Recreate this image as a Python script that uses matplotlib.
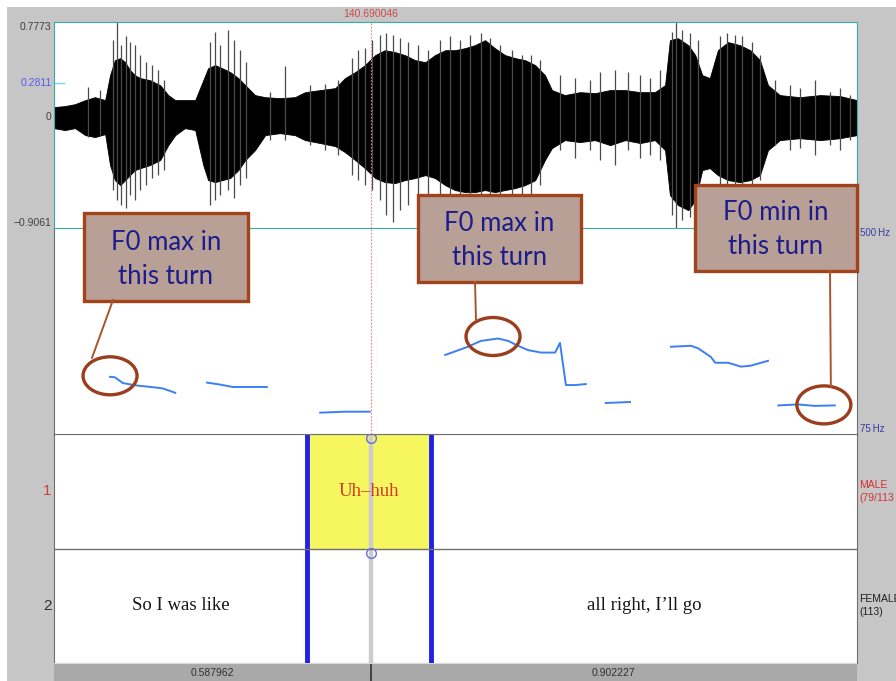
import numpy as np
import matplotlib
matplotlib.use("Agg")
import matplotlib.pyplot as plt
import matplotlib.transforms as mtransforms
from matplotlib.patches import Rectangle, Ellipse

# time window (s) shown in the editor, relative to its left edge
window_start = 140.102084
t_cursor = 0.587962
t_end = 1.490189

# waveform envelope (dense part)
wave_t = [0.000, 0.020, 0.039, 0.058, 0.076, 0.095, 0.104, 0.113, 0.123, 0.132,
          0.141, 0.150, 0.160, 0.178, 0.197, 0.212, 0.225, 0.243, 0.262, 0.277,
          0.286, 0.299, 0.312, 0.327, 0.342, 0.355, 0.373, 0.392, 0.419, 0.447,
          0.466, 0.494, 0.522, 0.540, 0.559, 0.577, 0.596, 0.614, 0.633, 0.651,
          0.670, 0.689, 0.707, 0.726, 0.744, 0.763, 0.781, 0.800, 0.818, 0.837,
          0.856, 0.874, 0.893, 0.911, 0.924, 0.948, 0.976, 1.004, 1.032, 1.060,
          1.088, 1.115, 1.134, 1.143, 1.158, 1.177, 1.190, 1.203, 1.217, 1.232,
          1.251, 1.273, 1.292, 1.310, 1.325, 1.347, 1.384, 1.422, 1.459, 1.490]
wave_hi = [0.082, 0.090, 0.106, 0.139, 0.163, 0.139, 0.343, 0.466, 0.482, 0.449,
           0.384, 0.343, 0.319, 0.302, 0.261, 0.180, 0.139, 0.139, 0.139, 0.302,
           0.400, 0.425, 0.400, 0.368, 0.319, 0.261, 0.180, 0.163, 0.155, 0.163,
           0.204, 0.221, 0.237, 0.319, 0.368, 0.425, 0.507, 0.547, 0.531, 0.507,
           0.466, 0.449, 0.507, 0.547, 0.547, 0.564, 0.588, 0.629, 0.564, 0.507,
           0.482, 0.466, 0.425, 0.343, 0.221, 0.180, 0.204, 0.196, 0.221, 0.221,
           0.204, 0.204, 0.261, 0.629, 0.645, 0.588, 0.507, 0.343, 0.319, 0.547,
           0.613, 0.588, 0.547, 0.466, 0.261, 0.180, 0.163, 0.180, 0.172, 0.139]
wave_lo = [-0.090, -0.106, -0.090, -0.147, -0.163, -0.139, -0.392, -0.515, -0.556, -0.515,
           -0.474, -0.433, -0.417, -0.392, -0.351, -0.229, -0.147, -0.090, -0.106, -0.392,
           -0.515, -0.531, -0.515, -0.498, -0.433, -0.351, -0.270, -0.147, -0.131, -0.147,
           -0.188, -0.212, -0.237, -0.286, -0.351, -0.417, -0.498, -0.531, -0.539, -0.515,
           -0.498, -0.474, -0.498, -0.556, -0.596, -0.613, -0.613, -0.596, -0.613, -0.596,
           -0.580, -0.556, -0.515, -0.351, -0.253, -0.188, -0.204, -0.188, -0.229, -0.188,
           -0.212, -0.188, -0.270, -0.637, -0.719, -0.760, -0.678, -0.433, -0.417, -0.474,
           -0.515, -0.531, -0.515, -0.474, -0.270, -0.188, -0.172, -0.188, -0.172, -0.147]

# single peaks sticking out of the envelope
spike_t = [0.1095, 0.1169, 0.1243, 0.1336, 0.1410, 0.1503, 0.1596, 0.1707, 0.1819, 0.1930,
           0.2041, 0.2895, 0.2988, 0.3081, 0.3229, 0.3340, 0.3452, 0.3563, 0.4287, 0.5530,
           0.5642, 0.5772, 0.5901, 0.6050, 0.6161, 0.6291, 0.6421, 0.6570, 0.6755, 0.6941,
           0.7163, 0.7349, 0.7535, 0.7720, 0.7924, 0.8091, 0.8277, 0.8500, 0.8685, 0.8852,
           0.9019, 1.0133, 1.0411, 1.0875, 1.1246, 1.1469, 1.1543, 1.1654, 1.1803, 1.1952,
           1.2360, 1.2490, 1.2638, 1.2768, 1.2953, 1.3102, 1.3659, 1.4123, 1.4587,
           0.0631, 0.0854, 0.4009, 0.4751, 0.5029, 0.5270, 0.9390, 0.9669, 0.9947, 1.0652,
           1.1061, 1.3380, 1.3844, 1.4401, 1.4772]
spike_hi = [0.629, 0.7773, 0.588, 0.662, 0.613, 0.588, 0.507, 0.449, 0.425, 0.384,
            0.302, 0.613, 0.694, 0.588, 0.711, 0.629, 0.547, 0.449, 0.417, 0.482,
            0.547, 0.564, 0.629, 0.670, 0.686, 0.670, 0.645, 0.613, 0.588, 0.547,
            0.629, 0.662, 0.629, 0.670, 0.686, 0.645, 0.588, 0.547, 0.507, 0.507,
            0.466, 0.368, 0.384, 0.343, 0.384, 0.694, 0.7773, 0.711, 0.686, 0.629,
            0.662, 0.686, 0.670, 0.662, 0.613, 0.507, 0.261, 0.302, 0.237,
            0.245, 0.221, 0.204, 0.261, 0.270, 0.302, 0.343, 0.319, 0.302, 0.368,
            0.319, 0.302, 0.237, 0.204, 0.180]
spike_lo = [-0.596, -0.678, -0.719, -0.743, -0.637, -0.678, -0.596, -0.556, -0.498, -0.474,
            -0.433, -0.719, -0.678, -0.637, -0.596, -0.662, -0.556, -0.498, -0.188, -0.474,
            -0.515, -0.556, -0.596, -0.678, -0.801, -0.858, -0.760, -0.719, -0.678, -0.719,
            -0.678, -0.719, -0.760, -0.743, -0.719, -0.735, -0.760, -0.719, -0.678, -0.645,
            -0.556, -0.351, -0.392, -0.335, -0.351, -0.801, -0.9061, -0.842, -0.817, -0.760,
            -0.596, -0.637, -0.613, -0.596, -0.556, -0.515, -0.270, -0.310, -0.270,
            -0.163, -0.147, -0.188, -0.229, -0.270, -0.310, -0.270, -0.335, -0.270, -0.270,
            -0.310, -0.229, -0.253, -0.229, -0.188]
wave_max, wave_min, wave_at_cursor = 0.7773, -0.9061, 0.2811

# pitch track (Hz), unvoiced gaps as nan
f0_t = [0.104, 0.113, 0.128, 0.154, 0.180, 0.202, 0.225, np.nan,
        0.284, 0.308, 0.332, 0.395, np.nan,
        0.494, 0.540, 0.586, np.nan,
        0.726, 0.768, 0.792, 0.824, 0.843, 0.861, 0.880, 0.904, 0.930, 0.939, 0.950, 0.967, 0.987, np.nan,
        1.024, 1.069, np.nan,
        1.145, 1.182, 1.195, 1.219, 1.227, 1.251, 1.275, 1.293, 1.325, np.nan,
        1.344, 1.381, 1.412, 1.449]
f0_hz = [193, 192, 180, 175, 172, 169, 160, np.nan,
         181, 177, 172, 172, np.nan,
         119, 121, 121, np.nan,
         238, 255, 267, 272, 267, 257, 248, 243, 243, 263, 176, 176, 178, np.nan,
         139, 141, np.nan,
         255, 257, 252, 234, 222, 222, 214, 216, 226, np.nan,
         134, 136, 133, 134]
f0_min, f0_max = 75, 500

# text grid
tier_edges = [0.0, 0.4695, 0.6996, t_end]
tier1_labels = ["", "Uh\u2013huh", ""]
tier2_labels = ["So I was like", "", "all right, I\u2019ll go"]
tier_names = [("MALE\n(79/113", "#d83030"), ("FEMALE\n(113)", "#202020")]

W, H = 896, 681


def rect(x0, y0, x1, y1):
    return [x0 / W, 1 - y1 / H, (x1 - x0) / W, (y1 - y0) / H]


fig = plt.figure(figsize=(W / 100, H / 100), dpi=100)
fig.patch.set_facecolor("white")
fig.add_artist(Rectangle((7 / W, 0), 1, 1 - 7 / H, transform=fig.transFigure,
                         facecolor="#c6c6c6", edgecolor="none", zorder=-10))

ui = dict(family="Liberation Sans", fontsize=7.5)
serif = dict(family="Liberation Serif", fontsize=13.5)

# --- waveform
ax_w = fig.add_axes(rect(54, 22, 857, 228), zorder=2)
ax_w.fill_between(wave_t, wave_lo, wave_hi, color="black", lw=0.6)
ax_w.vlines(spike_t, spike_lo, spike_hi, color="#4a4a4a", lw=0.9)
ax_w.axvline(t_cursor, color="#ef8080", lw=0.8, ls=(0, (1.5, 1.5)))
ax_w.set_xlim(0, t_end)
ax_w.set_ylim(wave_min, wave_max)
ax_w.set_xticks([])
ax_w.set_yticks([])
for s in ax_w.spines.values():
    s.set_color("#3aa9aa")
blend = mtransforms.blended_transform_factory(ax_w.transAxes, ax_w.transData)
ax_w.text(-0.003, wave_max, f"{wave_max:.4f}", transform=blend, ha="right", va="top",
          color="#404040", **ui)
ax_w.text(-0.003, wave_at_cursor, f"{wave_at_cursor:.4f}", transform=blend, ha="right",
          va="center", color="#5a5af0", **ui)
ax_w.plot([-0.002, 0.012], [wave_at_cursor] * 2, transform=blend, color="#70dde0",
          lw=1, clip_on=False)
ax_w.text(-0.003, 0, "0", transform=blend, ha="right", va="center", color="#404040", **ui)
ax_w.text(-0.003, wave_min, f"\u2212{abs(wave_min):.4f}", transform=blend, ha="right",
          va="bottom", color="#404040", **ui)
top = mtransforms.blended_transform_factory(ax_w.transData, ax_w.transAxes)
ax_w.text(t_cursor, 1.015, f"{window_start + t_cursor:.6f}", transform=top, ha="center",
          va="bottom", color="#d04848", **ui)

# --- pitch
ax_p = fig.add_axes(rect(54, 228, 857, 434), zorder=1)
ax_p.plot(f0_t, f0_hz, color="#3a80f2", lw=1.4)
ax_p.axvline(t_cursor, color="#ef8080", lw=0.8, ls=(0, (1.5, 1.5)))
ax_p.set_xlim(0, t_end)
ax_p.set_ylim(f0_min, f0_max)
ax_p.set_xticks([])
ax_p.set_yticks([])
ax_p.spines["top"].set_visible(False)
for k in ["left", "right", "bottom"]:
    ax_p.spines[k].set_color("#707070")
rblend = mtransforms.blended_transform_factory(ax_p.transAxes, ax_p.transData)
ax_p.text(1.004, f0_max, f"{f0_max}\u2009Hz", transform=rblend, ha="left", va="top",
          color="#3a3aa0", family="Liberation Sans", fontsize=7)
ax_p.text(1.004, f0_min, f"{f0_min}\u2009Hz", transform=rblend, ha="left", va="bottom",
          color="#3a3aa0", family="Liberation Sans", fontsize=7)

# --- tiers
ax_t = fig.add_axes(rect(54, 434, 857, 663))
ax_t.set_xlim(0, t_end)
ax_t.set_ylim(0, 2)
ax_t.axvspan(tier_edges[1], tier_edges[2], ymin=0.5, ymax=1, color="#f6f65e", lw=0)
ax_t.vlines(t_cursor, 0, 2, color="#cdcdcd", lw=3.2)
ax_t.vlines(tier_edges[1:3], 0, 2, color="#2020e8", lw=3.5)
ax_t.axhline(1, color="#707070", lw=1)
ax_t.plot([t_cursor, t_cursor], [1.965, 0.965], "o", ms=7, mfc="none", mec="#6a6ae8",
          mew=1, clip_on=False)
for i in range(3):
    mid = (tier_edges[i] + tier_edges[i + 1]) / 2
    ax_t.text(mid, 1.5, tier1_labels[i], ha="center", va="center", color="#d03a2a", **serif)
    ax_t.text(mid, 0.5, tier2_labels[i], ha="center", va="center", color="#151515", **serif)
ax_t.text(-0.003, 1.5, "1", transform=ax_t.get_yaxis_transform(), ha="right", va="center",
          color="#d04040", family="Liberation Sans", fontsize=11)
ax_t.text(-0.003, 0.5, "2", transform=ax_t.get_yaxis_transform(), ha="right", va="center",
          color="#303030", family="Liberation Sans", fontsize=11)
for (name, col), y in zip(tier_names, [1.5, 0.5]):
    ax_t.text(1.003, y, name, transform=ax_t.get_yaxis_transform(), ha="left", va="center",
              color=col, family="Liberation Sans", fontsize=7.5, linespacing=1.35)
ax_t.set_xticks([])
ax_t.set_yticks([])
for s in ax_t.spines.values():
    s.set_color("#707070")

# --- duration bar
ax_b = fig.add_axes(rect(54, 663, 857, 681))
ax_b.set_facecolor("#a9a9a9")
ax_b.set_xlim(0, t_end)
ax_b.set_ylim(0, 1)
ax_b.axvline(t_cursor, color="#303030", lw=1.2)
ax_b.axhline(1, color="#dadada", lw=1.5)
ax_b.text(t_cursor / 2, 0.45, f"{t_cursor:.6f}", ha="center", va="center", color="#303030", **ui)
ax_b.text((t_cursor + t_end) / 2, 0.45, f"{t_end - t_cursor:.6f}", ha="center", va="center",
          color="#303030", **ui)
ax_b.set_xticks([])
ax_b.set_yticks([])
for s in ax_b.spines.values():
    s.set_visible(False)

# --- callouts on top
ov = fig.add_axes([0, 0, 1, 1], zorder=10)
ov.set_xlim(0, W)
ov.set_ylim(H, 0)
ov.axis("off")

f0_t_arr = np.array(f0_t)
f0_hz_arr = np.array(f0_hz, dtype=float)
turn1 = f0_t_arr < tier_edges[1]
turn2 = f0_t_arr > tier_edges[2]


def pick(mask, fn):
    vals = np.where(mask, f0_hz_arr, np.nan)
    i = fn(vals)
    return f0_t_arr[i], f0_hz_arr[i]


def to_px(t, hz):
    return ov.transData.inverted().transform(ax_p.transData.transform((t, hz)))


callouts = [
    ("F0 max in\nthis turn", (84, 213, 248, 301), pick(turn1, np.nanargmax), (0, -1), (113, 300), (-18, -18)),
    ("F0 max in\nthis turn", (418, 195, 581, 282), pick(turn2, np.nanargmax), (-5, -2), (475, 282), (-17, -16)),
    ("F0 min in\nthis turn", (695, 185, 857, 271), pick(turn2, np.nanargmin), (9, -1), (830, 271), (7, -18)),
]
for text, (x0, y0, x1, y1), pt, off, start, end_off in callouts:
    ov.add_patch(Rectangle((x0, y0), x1 - x0, y1 - y0, facecolor="#b9a096",
                           edgecolor="#a2431c", lw=2.4))
    ov.text((x0 + x1) / 2, (y0 + y1) / 2 + 2, text, ha="center", va="center", color="#1c1c8c",
            family="Lato", fontsize=18.5, linespacing=1.45)
    cx, cy = to_px(*pt)
    cx, cy = cx + off[0], cy + off[1]
    ov.add_patch(Ellipse((cx, cy), 54, 38, facecolor="none", edgecolor="#9a3e1d", lw=2.4))
    ov.plot([start[0], cx + end_off[0]], [start[1], cy + end_off[1]], color="#a9552f", lw=1.4)

fig.savefig("out.png", dpi=100)
